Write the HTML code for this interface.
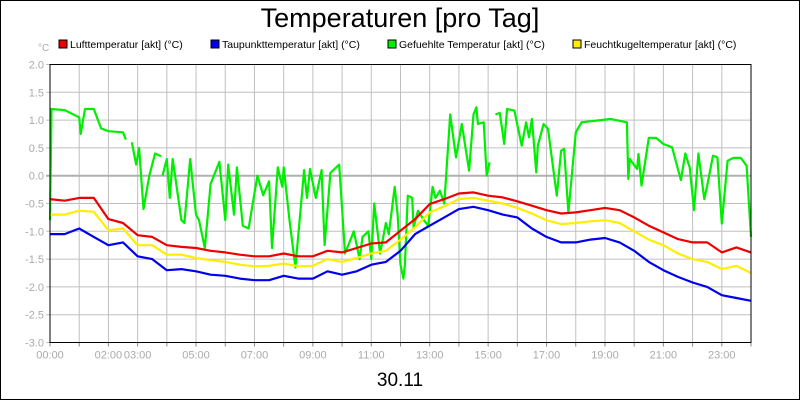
<!DOCTYPE html>
<html><head><meta charset="utf-8"><style>
body{margin:0;background:#fff}
svg{display:block;font-family:"Liberation Sans",sans-serif}
</style></head><body>
<svg id="c" width="800" height="400">
<rect x="0.5" y="0.5" width="799" height="399" fill="#fff" stroke="#000"/>
<text x="400" y="27" font-size="27" text-anchor="middle">Temperaturen [pro Tag]</text>
<text x="38" y="51" font-size="10" fill="#aaa">°C</text>
<text x="400" y="386" font-size="19" text-anchor="middle">30.11</text>
<g id="grid"></g><g id="series"></g>
<rect x="50" y="64.5" width="701" height="278" fill="none" stroke="#000"/>
<g id="legend"></g>
</svg>
<script>
const yTicks=[2.0,1.5,1.0,0.5,0.0,-0.5,-1.0,-1.5,-2.0,-2.5,-3.0];
const xTickLabels=[["00:00",0],["02:00",2],["03:00",3],["05:00",5],["07:00",7],["09:00",9],["11:00",11],["13:00",13],["15:00",15],["17:00",17],["19:00",19],["21:00",21],["23:00",23]];
const hours=[];for(let i=0;i<=48;i++)hours.push(i/2);
const lufttemp=[-0.42,-0.45,-0.4,-0.4,-0.78,-0.85,-1.07,-1.1,-1.25,-1.28,-1.3,-1.35,-1.38,-1.42,-1.45,-1.45,-1.4,-1.45,-1.45,-1.35,-1.38,-1.3,-1.22,-1.2,-0.99,-0.78,-0.51,-0.42,-0.32,-0.3,-0.36,-0.39,-0.46,-0.54,-0.62,-0.68,-0.66,-0.62,-0.58,-0.62,-0.75,-0.9,-1.02,-1.14,-1.2,-1.2,-1.38,-1.29,-1.38];
const feuchtkugel=[-0.7,-0.7,-0.63,-0.65,-0.98,-0.95,-1.25,-1.25,-1.42,-1.42,-1.48,-1.52,-1.55,-1.6,-1.63,-1.62,-1.58,-1.63,-1.62,-1.5,-1.55,-1.48,-1.4,-1.35,-1.15,-0.93,-0.66,-0.55,-0.42,-0.4,-0.45,-0.5,-0.58,-0.68,-0.8,-0.87,-0.85,-0.82,-0.8,-0.85,-1.0,-1.15,-1.25,-1.4,-1.5,-1.55,-1.68,-1.62,-1.75];
const taupunkt=[-1.05,-1.05,-0.95,-1.1,-1.25,-1.2,-1.45,-1.5,-1.7,-1.68,-1.72,-1.78,-1.8,-1.85,-1.88,-1.88,-1.8,-1.85,-1.85,-1.72,-1.78,-1.72,-1.6,-1.55,-1.35,-1.05,-0.9,-0.75,-0.6,-0.56,-0.62,-0.7,-0.75,-0.95,-1.1,-1.2,-1.2,-1.15,-1.12,-1.2,-1.35,-1.55,-1.7,-1.82,-1.92,-2.0,-2.15,-2.2,-2.25];
const gefuehltTime=[0,0.05,0.5,1.0,1.05,1.2,1.5,1.75,2,2.5,2.6,2.75,2.8,2.95,3.05,3.2,3.4,3.6,3.8,3.82,3.85,4.0,4.1,4.2,4.5,4.6,4.8,5.0,5.1,5.3,5.5,5.8,6.0,6.1,6.3,6.4,6.6,6.8,7.1,7.3,7.5,7.6,7.8,7.95,8.0,8.2,8.4,8.7,8.8,8.9,9.1,9.3,9.4,9.6,9.9,10.1,10.4,10.6,10.7,10.9,11.0,11.1,11.3,11.5,11.6,11.8,11.9,12.0,12.1,12.15,12.25,12.4,12.45,12.6,12.8,12.95,13.1,13.2,13.35,13.5,13.7,13.9,14.1,14.35,14.5,14.6,14.65,14.85,14.95,15.05,15.15,15.25,15.4,15.55,15.65,15.9,16.15,16.3,16.4,16.5,16.65,16.7,16.9,17.05,17.35,17.5,17.6,17.75,18.0,18.2,18.85,19.2,19.75,19.8,19.85,20.1,20.15,20.25,20.5,20.75,21.0,21.3,21.6,21.75,21.9,22.05,22.2,22.4,22.5,22.7,22.85,23.0,23.2,23.4,23.65,23.85,24];
const gefuehlt=[-0.8,1.2,1.18,1.05,0.75,1.2,1.2,0.85,0.8,0.78,0.65,null,0.6,0.2,0.5,-0.6,0.0,0.4,0.35,null,0.0,0.3,-0.4,0.3,-0.8,-0.85,0.3,-0.7,-0.8,-1.3,-0.15,0.25,-0.8,0.2,-0.7,0.15,-0.9,-0.95,0.0,-0.35,-0.1,-1.3,0.15,-0.2,0.15,-0.8,-1.65,0.1,-0.4,0.12,-0.4,0.1,-1.25,0.05,0.2,-1.4,-1.0,-1.5,-1.1,-1.0,-1.5,-0.5,-1.4,-0.85,-1.05,-0.2,-0.7,-1.6,-1.85,-1.6,-0.36,-0.4,-0.93,-0.63,-0.8,-0.9,-0.2,-0.4,-0.27,-0.5,1.1,0.33,0.93,0.09,1.1,1.23,0.93,0.96,0.0,0.24,null,1.1,1.13,0.57,1.2,1.17,0.54,0.96,0.69,1.02,0.06,0.54,0.93,0.84,-0.36,0.45,0.48,-0.66,0.78,0.96,1.0,1.02,0.96,-0.06,0.3,0.12,0.39,-0.18,0.68,0.68,0.57,0.51,-0.08,0.4,0.15,-0.62,0.4,-0.42,-0.18,0.36,0.33,-0.86,0.27,0.32,0.32,0.18,-1.1];
const L=50,R=751,T=64.5,B=342.5,NS="http://www.w3.org/2000/svg";
const xs=h=>L+(R-L)*h/24, ys=v=>T+(B-T)*(2-v)/5;
const grid=document.getElementById('grid'),ser=document.getElementById('series'),leg=document.getElementById('legend');
function mk(tag,at,par){const e=document.createElementNS(NS,tag);for(const k in at)e.setAttribute(k,at[k]);par.appendChild(e);return e;}
for(let h=1;h<24;h++){const l=mk('line',{x1:xs(h),x2:xs(h),y1:T,y2:B,stroke:'#c0c0c0'},grid);

}
for(let h=0;h<=24;h++){const l=mk('line',{x1:xs(h),x2:xs(h),y1:B,y2:B+4,stroke:'#888'},grid);

}
yTicks.forEach(v=>{const l=mk('line',{x1:L-4,x2:R,y1:ys(v),y2:ys(v),stroke:v===0?'#b0b0b0':'#c0c0c0','stroke-width':v===0?2:1},grid);


const t=mk('text',{x:44,y:ys(v)+4,'font-size':11,fill:'#aaa','text-anchor':'end'},grid);t.textContent=v.toFixed(1);

});
xTickLabels.forEach(([s,h])=>{const t=mk('text',{x:xs(h),y:B+16,'font-size':11,fill:'#aaa','text-anchor':'middle'},grid);t.textContent=s;

});
function line(tv,vals,col,name){let d='',pen=false;vals.forEach((v,i)=>{if(v===null){pen=false;return;}d+=(pen?'L':'M')+xs(tv[i]).toFixed(1)+' '+ys(v).toFixed(1);pen=true;});
const p=mk('path',{d:d,fill:'none',stroke:col,'stroke-width':2.2,'stroke-linejoin':'round'},ser);

}
line(gefuehltTime,gefuehlt,'#00ee00','gefuehlte-temperatur-line');
line(hours,taupunkt,'#0000ee','taupunkttemperatur-line');
line(hours,feuchtkugel,'#ffee00','feuchtkugeltemperatur-line');
line(hours,lufttemp,'#ee0000','lufttemperatur-line');
[["Lufttemperatur [akt] (°C)",'#ee0000',59],["Taupunkttemperatur [akt] (°C)",'#0000ee',211],["Gefuehlte Temperatur [akt] (°C)",'#00ee00',388],["Feuchtkugeltemperatur [akt] (°C)",'#ffee00',573]].forEach(([s,c,x])=>{
const g=mk('g',{},leg);


mk('rect',{x:x,y:40,width:8,height:8,fill:c,stroke:'#000'},g);
const t=mk('text',{x:x+11,y:48,'font-size':10.5},g);t.textContent=s;});
</script>
</body></html>
